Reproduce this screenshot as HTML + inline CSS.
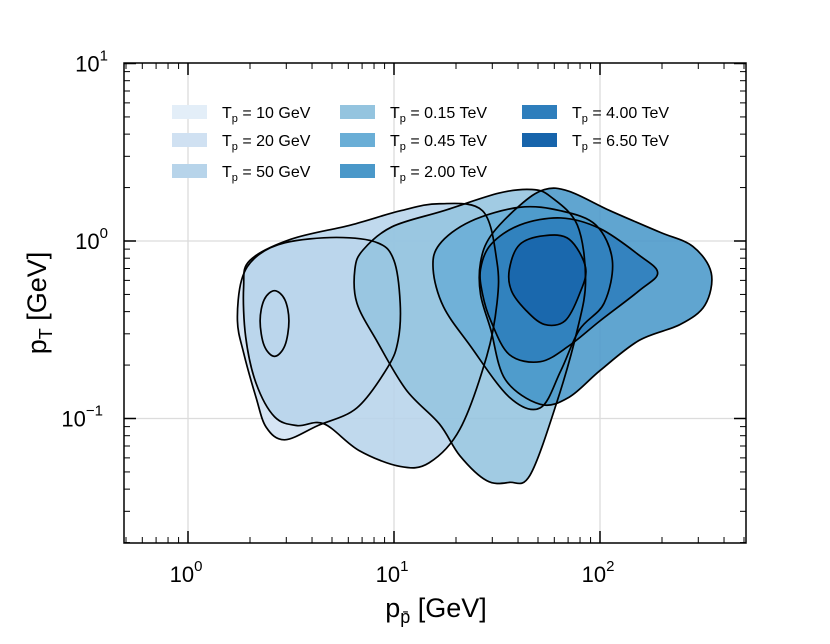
<!DOCTYPE html>
<html><head><meta charset="utf-8"><style>
html,body{margin:0;padding:0;background:#fff;}
svg text{font-family:"Liberation Sans",sans-serif;fill:#000;}
</style></head><body>
<svg id="chart" width="830" height="639" viewBox="0 0 830 639" xmlns="http://www.w3.org/2000/svg">
<g id="grid"></g>
<g id="contours"></g>
<g id="outlines"></g>
<g id="axes"></g>
<g id="legend"></g>
<text transform="translate(46,303) rotate(-90)" text-anchor="middle" font-size="27">p<tspan font-size="18" dy="6">T</tspan><tspan dy="-6"> [GeV]</tspan></text>
<text x="436" y="617" text-anchor="middle" font-size="27">p<tspan font-size="18" dy="6">p̄</tspan><tspan dy="-6"> [GeV]</tspan></text>
</svg>
<script>
// Data: contour outlines in log10(p [GeV]), log10(pT [GeV])
const labels=["T_p=10GeV","T_p=20GeV","T_p=50GeV","T_p=0.15TeV","T_p=0.45TeV","T_p=2.00TeV","T_p=4.00TeV","T_p=6.50TeV"];
const legendText=["10GeV","20GeV","50GeV","0.15TeV","0.45TeV","2.00TeV","4.00TeV","6.50TeV"];
const colors=["#e3eef8","#d0e1f2","#b7d4ea","#94c4df","#6aaed6","#4a98c9","#2e7ebc","#1764ab"];
const c10=[[0.42,-0.28],[0.47,-0.33],[0.49,-0.45],[0.47,-0.59],[0.42,-0.65],[0.37,-0.59],[0.35,-0.45],[0.37,-0.33]];
const c20=[[0.47,-0.01],[0.72,0.02],[0.92,-0.01],[1.00,-0.11],[1.03,-0.35],[1.02,-0.56],[0.97,-0.71],[0.82,-0.94],[0.63,-1.04],[0.47,-1.12],[0.38,-1.05],[0.33,-0.88],[0.27,-0.63],[0.24,-0.45],[0.26,-0.22],[0.33,-0.09]];
const c50=[[0.30,-0.11],[0.50,0.01],[0.79,0.09],[1.03,0.17],[1.22,0.21],[1.43,0.17],[1.50,-0.12],[1.50,-0.35],[1.45,-0.65],[1.32,-1.06],[1.17,-1.25],[1.03,-1.27],[0.83,-1.18],[0.66,-1.03],[0.53,-1.04],[0.42,-0.99],[0.33,-0.80],[0.28,-0.54],[0.27,-0.26]];
const c015=[[0.81,-0.16],[0.85,-0.05],[0.99,0.08],[1.24,0.17],[1.51,0.27],[1.67,0.29],[1.76,0.25],[1.89,0.09],[1.93,-0.22],[1.89,-0.50],[1.79,-0.91],[1.66,-1.32],[1.56,-1.36],[1.45,-1.35],[1.32,-1.21],[1.22,-1.03],[1.06,-0.84],[0.92,-0.57],[0.82,-0.35]];
const c045=[[1.19,-0.16],[1.22,-0.02],[1.37,0.11],[1.61,0.19],[1.81,0.17],[1.98,0.09],[2.06,-0.11],[2.02,-0.35],[1.90,-0.50],[1.81,-0.73],[1.71,-0.94],[1.56,-0.88],[1.37,-0.59],[1.24,-0.37]];
const c200=[[1.42,-0.12],[1.47,0.03],[1.61,0.20],[1.73,0.29],[1.85,0.28],[2.05,0.17],[2.29,0.05],[2.45,-0.03],[2.54,-0.18],[2.51,-0.36],[2.39,-0.47],[2.19,-0.56],[2.00,-0.73],[1.85,-0.88],[1.71,-0.92],[1.54,-0.78],[1.47,-0.50],[1.42,-0.30]];
const c400=[[1.42,-0.16],[1.47,-0.02],[1.61,0.09],[1.81,0.13],[2.00,0.07],[2.19,-0.08],[2.28,-0.18],[2.19,-0.28],[2.00,-0.45],[1.85,-0.59],[1.71,-0.68],[1.56,-0.64],[1.47,-0.45],[1.43,-0.30]];
const c650=[[1.56,-0.16],[1.61,-0.02],[1.73,0.03],[1.85,0.01],[1.93,-0.15],[1.90,-0.30],[1.83,-0.45],[1.73,-0.47],[1.64,-0.39],[1.57,-0.28]];
const series=[c10,c20,c50,c015,c045,c200,c400,c650];
const xMajor=[0,1,2];
const yMajor=[-1,0,1];
const xTickExp=["0","1","2"];
const yTickExp=["−1","0","1"];

const L=124,R=746,T=63,B=543;
const X=v=>188+v*206;            // v = log10(p)
const Y=v=>241-v*177.5;          // v = log10(pT)
const xMin=(L-188)/206,xMax=(R-188)/206,yMin=(241-B)/177.5,yMax=1;
const NS="http://www.w3.org/2000/svg";
function mk(tag,attrs,parent){const e=document.createElementNS(NS,tag);for(const k in attrs)e.setAttribute(k,attrs[k]);parent.appendChild(e);return e;}
const grid=document.getElementById('grid'),axes=document.getElementById('axes'),cg=document.getElementById('contours'),og=document.getElementById('outlines'),lg=document.getElementById('legend');

xMajor.forEach(v=>{const l=mk('line',{x1:X(v),x2:X(v),y1:T,y2:B,stroke:'#dcdcdc','stroke-width':1.3},grid);

});
yMajor.forEach(v=>{if(v>=1)return;const l=mk('line',{x1:L,x2:R,y1:Y(v),y2:Y(v),stroke:'#dcdcdc','stroke-width':1.3},grid);

});

function smooth(pts){
  const p=pts.map(q=>[X(q[0]),Y(q[1])]);const n=p.length;let d=`M${p[0][0]},${p[0][1]}`;
  for(let i=0;i<n;i++){const p0=p[(i-1+n)%n],p1=p[i],p2=p[(i+1)%n],p3=p[(i+2)%n];
    const c1=[p1[0]+(p2[0]-p0[0])/6,p1[1]+(p2[1]-p0[1])/6],c2=[p2[0]-(p3[0]-p1[0])/6,p2[1]-(p3[1]-p1[1])/6];
    d+=` C${c1[0]},${c1[1]} ${c2[0]},${c2[1]} ${p2[0]},${p2[1]}`;}
  return d+'Z';}
series.forEach((s,i)=>{const p=mk('path',{d:smooth(s),fill:colors[i],'fill-opacity':0.88,stroke:'none'},cg);

});
series.forEach((s,i)=>{const p=mk('path',{d:smooth(s),fill:'none',stroke:'#000','stroke-width':1.7},og);

});

const fr=mk('rect',{x:L,y:T,width:R-L,height:B-T,fill:'none',stroke:'#000','stroke-width':1.5},axes);


for(let d=-1;d<=3;d++){for(let m=1;m<10;m++){const v=d+Math.log10(m);if(v<xMin||v>xMax)continue;const len=m==1?12:6;
 mk('line',{x1:X(v),x2:X(v),y1:B,y2:B-len,stroke:'#000','stroke-width':m==1?1.5:1},axes);
 mk('line',{x1:X(v),x2:X(v),y1:T,y2:T+len,stroke:'#000','stroke-width':m==1?1.5:1},axes);}}
for(let d=-2;d<=1;d++){for(let m=1;m<10;m++){const v=d+Math.log10(m);if(v<yMin-0.001||v>yMax+0.001)continue;const len=m==1?12:6;
 mk('line',{x1:L,x2:L+len,y1:Y(v),y2:Y(v),stroke:'#000','stroke-width':m==1?1.5:1},axes);
 mk('line',{x1:R,x2:R-len,y1:Y(v),y2:Y(v),stroke:'#000','stroke-width':m==1?1.5:1},axes);}}
xMajor.forEach((v,i)=>{const t=mk('text',{x:X(v)-2,y:582,'text-anchor':'middle','font-size':22},axes);


t.innerHTML=`10<tspan dy="-11" font-size="15">${xTickExp[i]}</tspan>`;});
yMajor.forEach((v,i)=>{const t=mk('text',{x:108,y:Y(v)+8,'text-anchor':'end','font-size':22},axes);


t.innerHTML=`10<tspan dy="-11" font-size="15">${yTickExp[i]}</tspan>`;
if(i===0)t.setAttribute('x',103);});
const colX=[172,340,522],txtX=[222,390,572],rowY=[112,140,171];
labels.forEach((lab,i)=>{const c=i<3?0:(i<6?1:2),r=i<3?i:(i<6?i-3:i-6);
 const g=mk('g',{},lg);
 
 
 mk('rect',{x:colX[c],y:rowY[r]-7,width:35,height:14,fill:colors[i]},g);
 const t=mk('text',{x:txtX[c],y:rowY[r]+6,'font-size':16},g);
 t.innerHTML=`T<tspan font-size="11" dy="4">p</tspan><tspan dy="-4"> = ${legendText[i].replace('GeV',' GeV').replace('TeV',' TeV')}</tspan>`;});
</script>
</body></html>
